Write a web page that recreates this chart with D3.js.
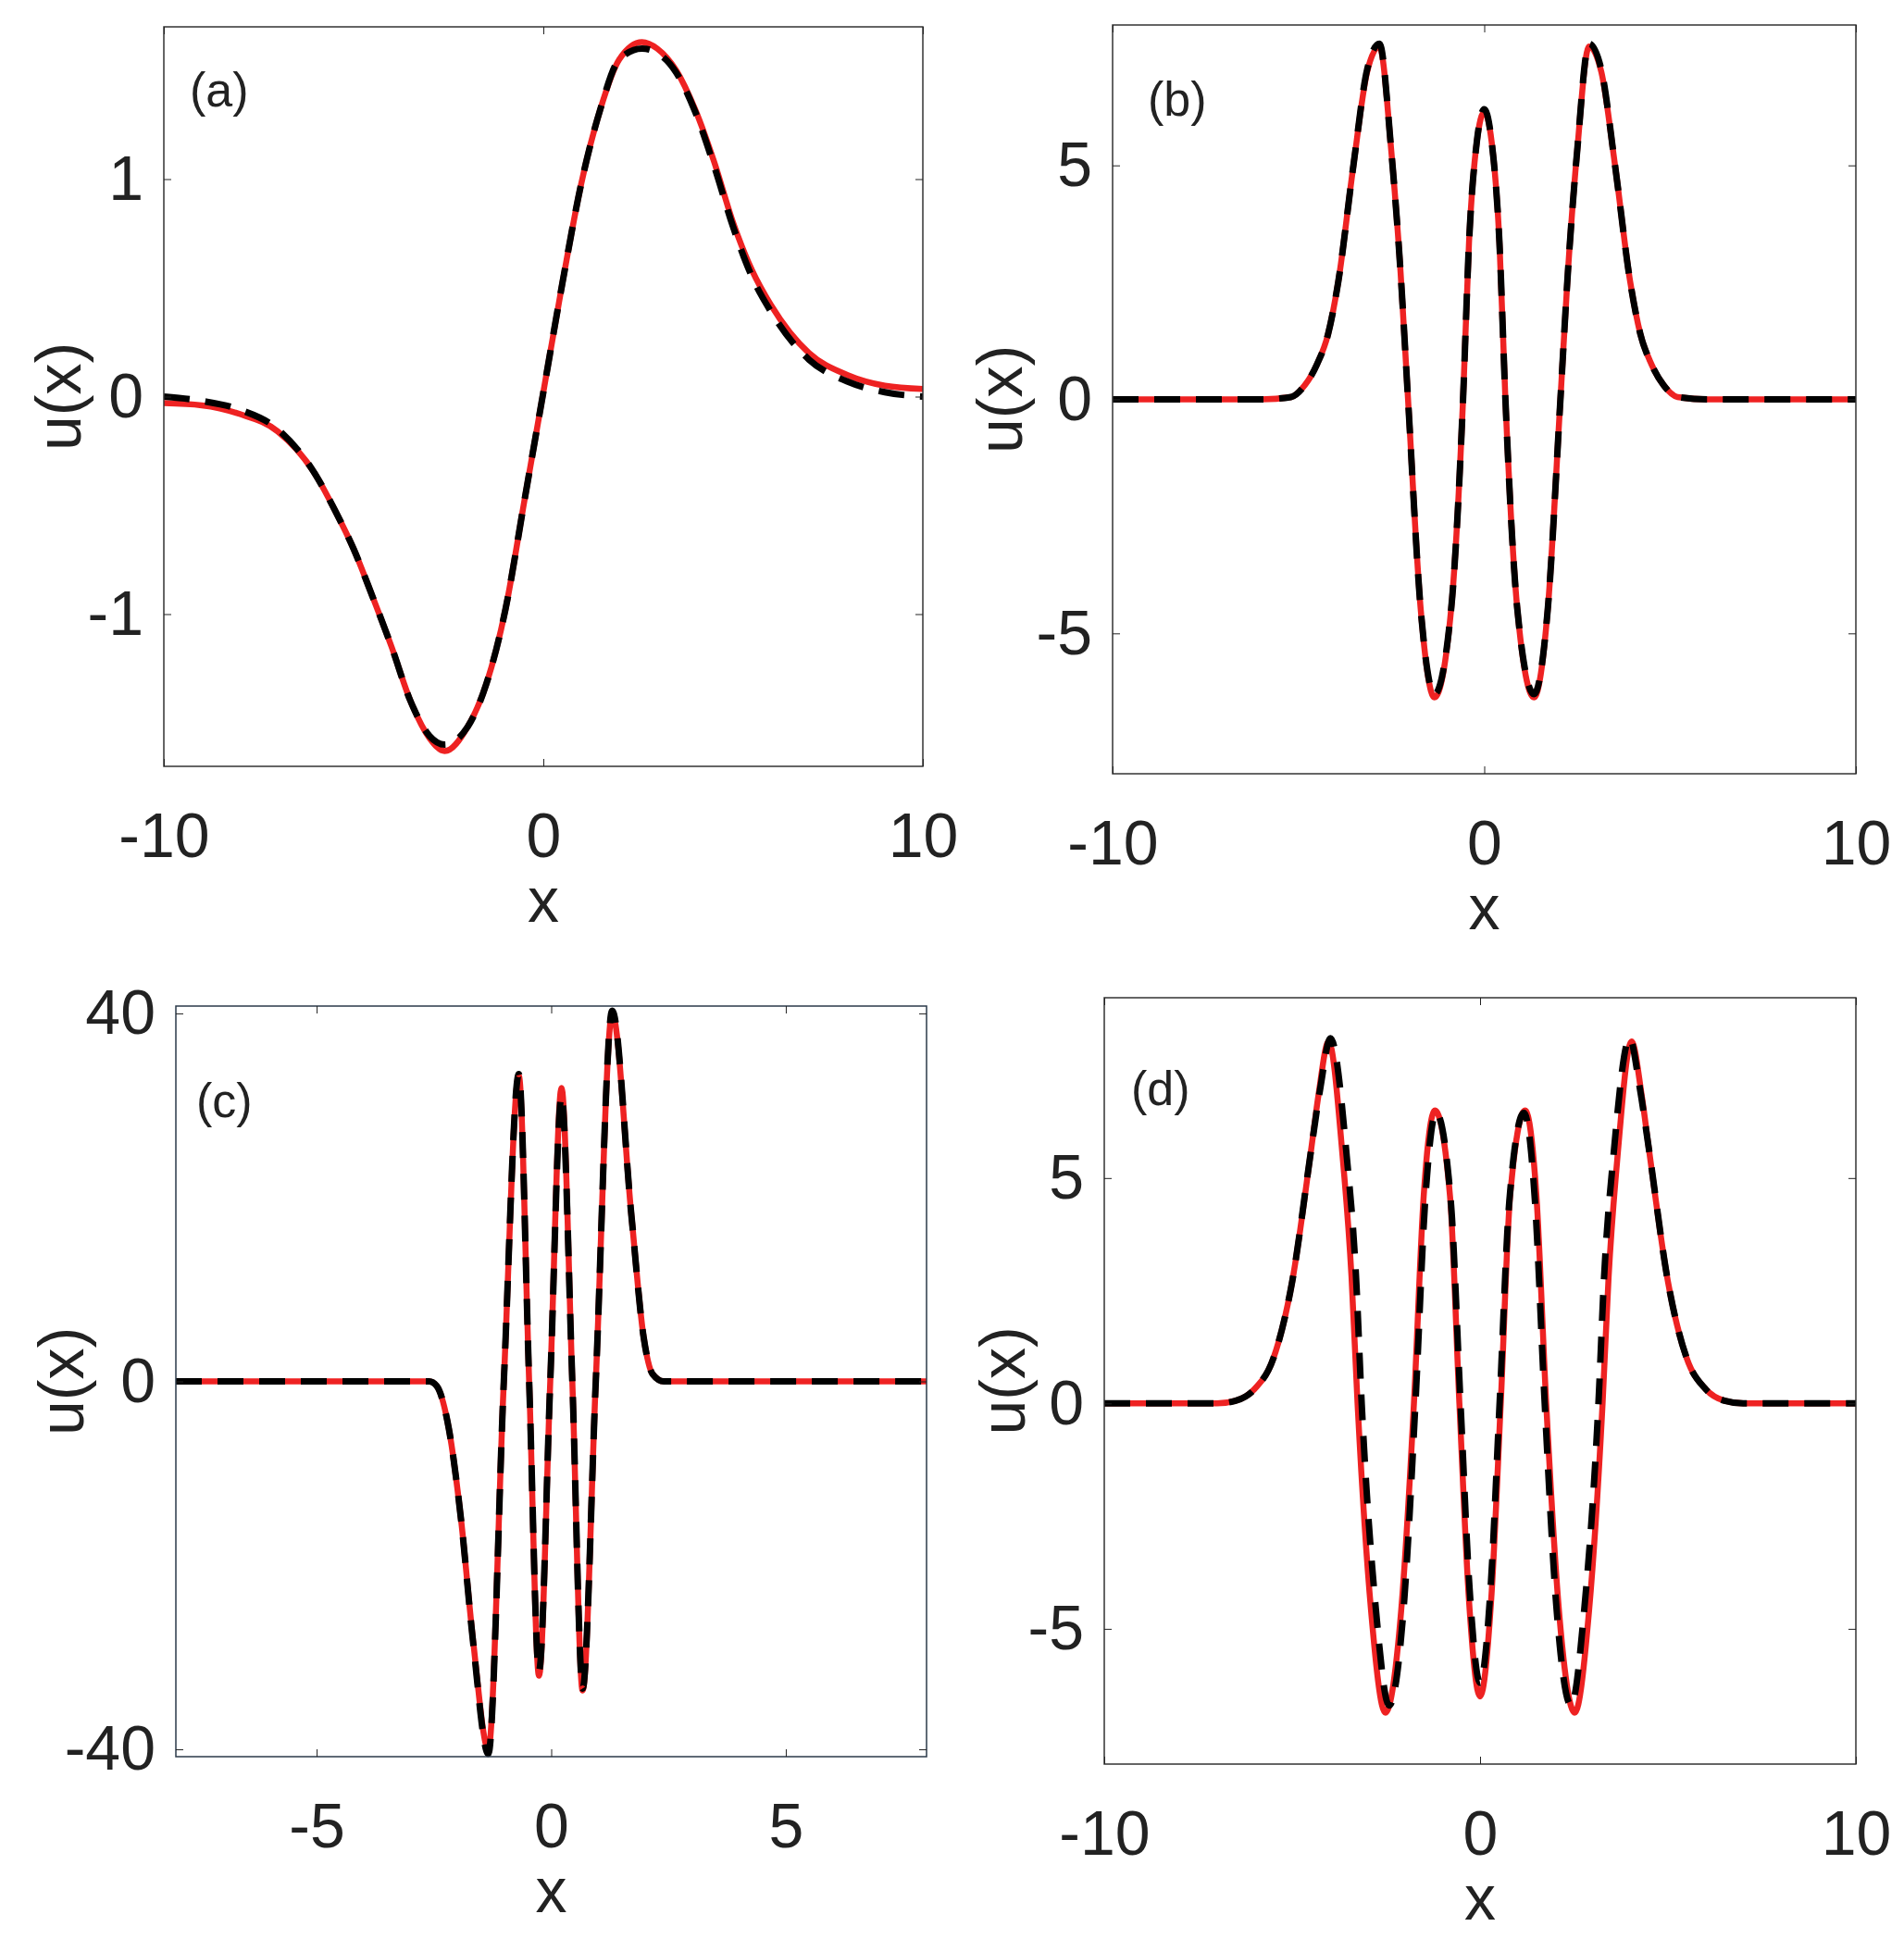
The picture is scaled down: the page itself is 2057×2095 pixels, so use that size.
<!DOCTYPE html>
<html>
<head>
<meta charset="utf-8">
<script src="https://cdn.jsdelivr.net/npm/d3@7"></script>
<style>
  body { margin: 0; background: #fff; }
  svg text { font-family: "Liberation Sans", Arial, sans-serif; fill: #222; }
</style>
</head>
<body>
<div id="chart"></div>
<script>
// ---- data ----
const aX   = [-10,-9,-8,-7,-6,-5.5,-5,-4.5,-4,-3.5,-3,-2.6,-2,-1.5,-1,-0.5,0,0.5,1,1.5,2,2.6,3,3.5,4,4.5,5,5.5,6,7,8,9,10];
const aRed = [-0.03,-0.04,-0.08,-0.16,-0.36,-0.52,-0.70,-0.92,-1.15,-1.40,-1.57,-1.63,-1.52,-1.32,-0.98,-0.48,0.02,0.52,0.98,1.32,1.55,1.63,1.60,1.50,1.32,1.08,0.80,0.58,0.42,0.20,0.10,0.05,0.035];
const aBlk = [0.0,-0.02,-0.06,-0.15,-0.36,-0.52,-0.70,-0.92,-1.15,-1.40,-1.56,-1.60,-1.52,-1.32,-0.98,-0.48,0.02,0.52,0.98,1.32,1.55,1.60,1.58,1.49,1.31,1.06,0.78,0.55,0.39,0.17,0.07,0.02,0.0];

const bX   = [-10,-6,-5.2,-4.83,-4.5,-4.2,-3.93,-3.52,-3.15,-2.82,-2.5,-2.25,-2.05,-1.71,-1.34,-0.89,-0.57,-0.41,-0.2,0,0.2,0.41,0.57,0.89,1.34,1.71,2.05,2.25,2.5,2.82,3.15,3.52,3.93,4.2,4.5,4.83,5.2,6,10];
const bRed = [0,0,0.05,0.3,0.75,1.4,2.5,5.0,7.0,7.54,5.3,2.7,0,-4.48,-6.37,-4.48,0,3.34,5.5,6.14,5.5,3.34,0,-4.48,-6.37,-4.48,0,2.7,5.3,7.54,7.0,5.0,2.5,1.4,0.75,0.3,0.05,0,0];
const bBlk = [0,0,0.05,0.3,0.75,1.4,2.5,5.0,7.05,7.6,5.3,2.7,0,-4.48,-6.3,-4.48,0,3.34,5.5,6.2,5.5,3.34,0,-4.48,-6.3,-4.48,0,2.7,5.3,7.6,7.05,5.0,2.5,1.4,0.75,0.3,0.05,0,0];

const cX   = [-8,-2.6,-2.44,-2.18,-1.92,-1.66,-1.34,-1.01,-0.69,-0.47,-0.26,-0.02,0.22,0.45,0.67,0.95,1.30,1.71,1.97,2.16,2.4,8];
const cRed = [0,0,-0.5,-5.2,-15.1,-28.4,-40,0,33.2,0,-32,0,31.9,0,-33.6,0,40,18,4.8,0.8,0,0];
const cBlk = [0,0,-0.5,-5.2,-15.1,-28.6,-40.5,0,33.4,0,-31.5,0,31.0,0,-33.4,0,40.3,18,4.8,0.8,0,0];

const dRedX = [-10,-7,-6.5,-6,-5.5,-5,-4.5,-4.3,-4.03,-3.66,-3.42,-3.26,-2.9,-2.52,-2.1,-1.76,-1.5,-1.2,-0.8,-0.55,-0.3,0,0.3,0.55,0.8,1.2,1.5,1.76,2.1,2.52,2.9,3.26,3.42,3.66,4.03,4.3,4.5,5,5.5,6,6.5,7,10];
const dRed  = [0,0,0.06,0.32,1.0,2.7,5.6,6.84,8.03,5.5,2.8,0,-4.6,-6.86,-4.6,0,4.6,6.5,4.6,0,-4.3,-6.5,-4.3,0,4.6,6.5,4.6,0,-4.6,-6.86,-4.6,0,2.8,5.5,8.03,6.84,5.6,2.7,1.0,0.32,0.06,0,0];
const dBlkX = [-10,-7,-6.5,-6,-5.5,-5,-4.5,-4.25,-3.98,-3.55,-3.3,-3.15,-2.78,-2.42,-2.03,-1.72,-1.46,-1.17,-0.78,-0.52,-0.28,0,0.28,0.52,0.78,1.17,1.46,1.72,2.03,2.42,2.78,3.15,3.3,3.55,3.98,4.25,4.5,5,5.5,6,6.5,7,10];
const dBlk  = [0,0,0.06,0.32,1.0,2.7,5.6,7.0,8.1,5.5,2.8,0,-4.5,-6.7,-4.5,0,4.5,6.45,4.5,0,-4.1,-6.2,-4.1,0,4.5,6.45,4.5,0,-4.5,-6.7,-4.5,0,2.8,5.5,8.1,7.0,5.6,2.7,1.0,0.32,0.06,0,0];

const panels = [
  {id:"(a)", l:177, r:997, t:29, b:828, xd:[-10,10], yd:[-1.7,1.7], xt:[-10,0,10], yt:[-1,0,1],
   red:[aX,aRed], blk:[aX,aBlk], ylx:-114, lab:[28,86], frame:"#333"},
  {id:"(b)", l:1202, r:2005, t:27, b:836, xd:[-10,10], yd:[-8,8], xt:[-10,0,10], yt:[-5,0,5],
   red:[bX,bRed], blk:[bX,bBlk], ylx:-122, lab:[38,98], frame:"#333"},
  {id:"(c)", l:190, r:1001, t:1087, b:1898, xd:[-8,8], yd:[-40.8,40.8], xt:[-5,0,5], yt:[-40,0,40],
   red:[cX,cRed], blk:[cX,cBlk], ylx:-124, lab:[22,120], frame:"#2b3a4a"},
  {id:"(d)", l:1193, r:2005, t:1078, b:1906, xd:[-10,10], yd:[-8,9], xt:[-10,0,10], yt:[-5,0,5],
   red:[dRedX,dRed], blk:[dBlkX,dBlk], ylx:-110, lab:[29,116], frame:"#333"}
];

const fmt = d => String(d);   // plain hyphen minus, as in the picture

const svg = d3.select("#chart").append("svg")
  .attr("width", 2057).attr("height", 2095);

panels.forEach(p => {
  const x = d3.scaleLinear().domain(p.xd).range([p.l, p.r]);
  const y = d3.scaleLinear().domain(p.yd).range([p.b, p.t]);
  const g = svg.append("g");
  const clipId = "clip" + p.id.replace(/[()]/g, "");
  svg.append("clipPath").attr("id", clipId).append("rect")
    .attr("x", p.l).attr("y", p.t - 6).attr("width", p.r - p.l).attr("height", p.b - p.t + 12);

  const line = d3.line().x(d => x(d[0])).y(d => y(d[1])).curve(d3.curveMonotoneX);
  const redPts = p.red[0].map((v, i) => [v, p.red[1][i]]);
  const blkPts = p.blk[0].map((v, i) => [v, p.blk[1][i]]);

  g.append("path").attr("d", line(redPts)).attr("fill", "none")
    .attr("stroke", "#ee2222").attr("stroke-width", 6.5).attr("clip-path", `url(#${clipId})`);
  g.append("path").attr("d", line(blkPts)).attr("fill", "none")
    .attr("stroke", "#000").attr("stroke-width", 7).attr("stroke-dasharray", "28,17")
    .attr("clip-path", `url(#${clipId})`);

  g.append("rect").attr("x", p.l).attr("y", p.t).attr("width", p.r - p.l).attr("height", p.b - p.t)
    .attr("fill", "none").attr("stroke", p.frame).attr("stroke-width", 1.5);

  // inward ticks, both sides
  g.append("g").attr("transform", `translate(0,${p.b})`)
    .call(d3.axisBottom(x).tickValues(p.xt).tickSize(-8).tickFormat(fmt).tickPadding(50))
    .call(s => s.select(".domain").remove());
  g.append("g").attr("transform", `translate(0,${p.t})`)
    .call(d3.axisTop(x).tickValues(p.xt).tickSize(-8).tickFormat(""))
    .call(s => s.select(".domain").remove());
  g.append("g").attr("transform", `translate(${p.l},0)`)
    .call(d3.axisLeft(y).tickValues(p.yt).tickSize(-8).tickFormat(fmt).tickPadding(22))
    .call(s => s.select(".domain").remove());
  g.append("g").attr("transform", `translate(${p.r},0)`)
    .call(d3.axisRight(y).tickValues(p.yt).tickSize(-8).tickFormat(""))
    .call(s => s.select(".domain").remove());

  g.selectAll(".tick line").attr("stroke", "#222");
  g.selectAll(".tick text").attr("font-size", 68).attr("fill", "#222")
    .attr("font-family", "Liberation Sans, Arial, sans-serif");

  g.append("text").attr("x", (p.l + p.r) / 2).attr("y", p.b + 168)
    .attr("text-anchor", "middle").attr("font-size", 68).text("x");
  g.append("text")
    .attr("transform", `translate(${p.l + p.ylx},${(p.t + p.b) / 2}) rotate(-90)`)
    .attr("text-anchor", "middle").attr("dy", "0.35em").attr("font-size", 68).text("u(x)");
  g.append("text").attr("x", p.l + p.lab[0]).attr("y", p.t + p.lab[1])
    .attr("font-family", "Open Sans, sans-serif").attr("font-size", 52).text(p.id);
});
</script>
</body>
</html>
